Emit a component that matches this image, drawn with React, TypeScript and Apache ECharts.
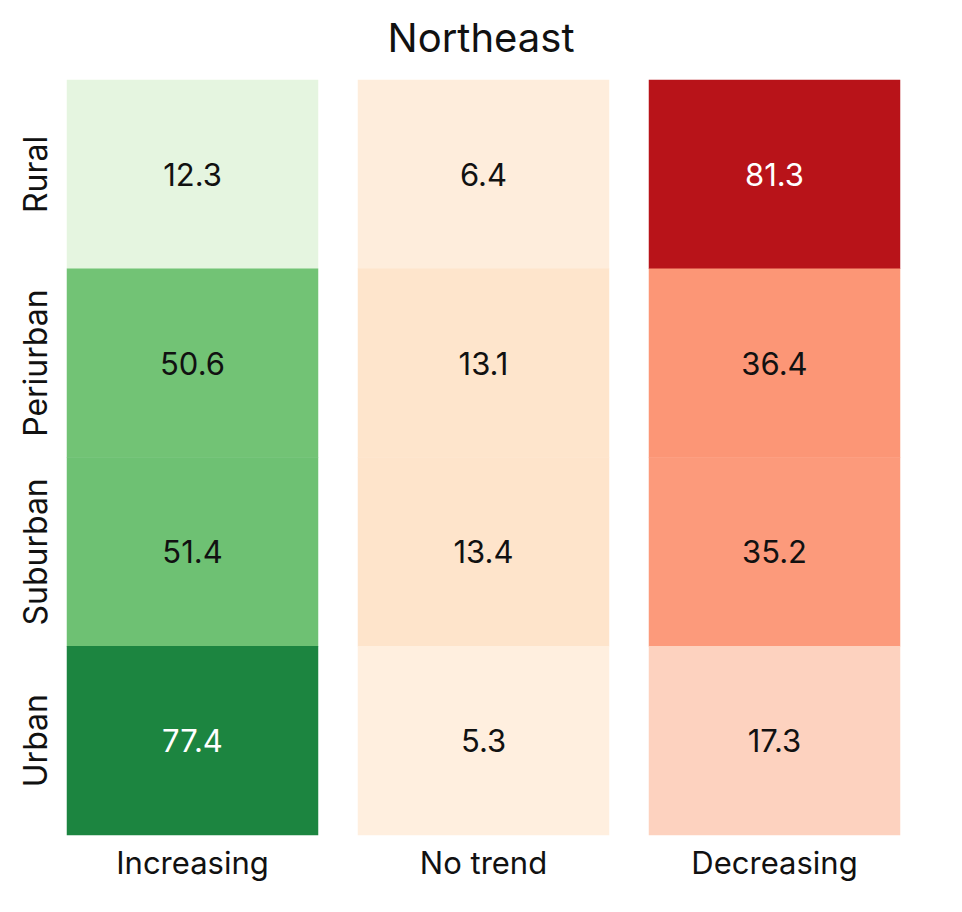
import React, { useEffect, useRef } from "react";
import * as echarts from "echarts";

const rows = ["Rural", "Periurban", "Suburban", "Urban"];
const trends = ["Increasing", "No trend", "Decreasing"];
const increasing = [12.3, 50.6, 51.4, 77.4];
const noTrend = [6.4, 13.1, 13.4, 5.3];
const decreasing = [81.3, 36.4, 35.2, 17.3];
const titleText = "Northeast";

const greens = ["#f7fcf5", "#e5f5e0", "#c7e9c0", "#a1d99b", "#74c476", "#41ab5d", "#238b45", "#006d2c", "#00441b"];
const oranges = ["#fff5eb", "#fee6ce", "#fdd0a2", "#fdae6b", "#fd8d3c", "#f16913", "#d94801", "#a63603", "#7f2704"];
const reds = ["#fff5f0", "#fee0d2", "#fcbba1", "#fc9272", "#fb6a4a", "#ef3b2c", "#cb181d", "#a50f15", "#67000d"];

const FONT = "Inter, 'Noto Sans', sans-serif";

export default function App() {
  const ref = useRef<HTMLDivElement>(null);
  useEffect(() => {
    if (!ref.current) return;
    const chart = echarts.init(ref.current, null, { renderer: "svg" });
    const seriesVals = [increasing, noTrend, decreasing];
    const palettes = [greens, oranges, reds];
    const lefts = [67, 358, 649];
    const width = 251;
    const grids = lefts.map((l) => ({ left: l, width, top: 80, height: 755 }));
    const xAxes = trends.map((t, i) => ({
      type: "category",
      gridIndex: i,
      data: [t],
      axisLine: { show: false },
      axisTick: { show: false },
      axisLabel: { fontSize: 31, color: "#111", fontFamily: FONT, margin: 12 },
    }));
    const yAxes = trends.map((_, i) => ({
      type: "category",
      gridIndex: i,
      data: rows,
      inverse: true,
      axisLine: { show: false },
      axisTick: { show: false },
      axisLabel: {
        show: i === 0,
        interval: 0,
        hideOverlap: false,
        rotate: 90,
        fontSize: 32,
        color: "#111",
        fontFamily: FONT,
        margin: 16,
      },
    }));
    const series = seriesVals.map((vals, i) => ({
      type: "heatmap",
      xAxisIndex: i,
      yAxisIndex: i,
      data: vals.map((v, r) => ({
        value: [0, r, v],
        label: { color: v > 60 ? "#ffffff" : "#111111" },
      })),
      label: {
        show: true,
        fontSize: 31,
        fontFamily: FONT,
        formatter: (p: any) => p.value[2].toFixed(1),
      },
      itemStyle: { borderWidth: 0 },
      emphasis: { disabled: true },
    }));
    const visualMaps = palettes.map((p, i) => ({
      type: "continuous",
      show: false,
      min: 0,
      max: 100,
      dimension: 2,
      seriesIndex: i,
      inRange: { color: p },
    }));
    chart.setOption({
      animation: false,
      backgroundColor: "#ffffff",
      title: {
        text: titleText,
        left: "center",
        top: 12,
        textStyle: { fontSize: 40, fontWeight: "normal", color: "#111", fontFamily: FONT },
      },
      grid: grids,
      xAxis: xAxes,
      yAxis: yAxes,
      visualMap: visualMaps,
      series,
    });
    return () => chart.dispose();
  }, []);
  return (
    <div
      ref={ref}
      style={{ position: "fixed", left: 0, top: 0, width: 962, height: 912 }}
    />
  );
}
